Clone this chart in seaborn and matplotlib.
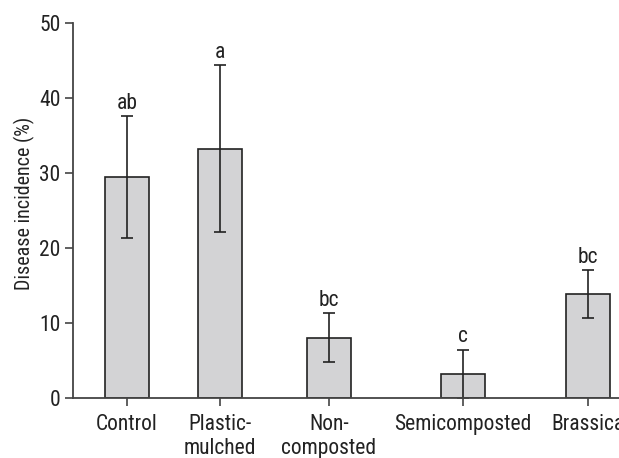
import matplotlib
matplotlib.use("Agg")
import matplotlib.pyplot as plt
import seaborn as sns
import pandas as pd

# data
treatments = ["Control", "Plastic-\nmulched", "Non-\ncomposted", "Semicomposted", "Brassica"]
incidence = [29.5, 33.3, 8.1, 3.2, 13.9]
err = [8.1, 11.1, 3.3, 3.3, 3.2]
letters = ["ab", "a", "bc", "c", "bc"]

# layout: uneven spacing of the groups on the x axis
x_pos = [0.0, 1.0, 2.17, 3.61, 4.96]

sns.set_theme(style="ticks")
plt.rcParams["font.family"] = ["Roboto Condensed", "Archivo Narrow", "DejaVu Sans"]

df = pd.DataFrame({"x": x_pos, "incidence": incidence})

fig = plt.figure(figsize=(6.19, 4.58), dpi=100)
ax = fig.add_axes([73 / 619, (458 - 398.3) / 458, (619 - 73) / 619, (398.3 - 23.3) / 458])

sns.barplot(data=df, x="x", y="incidence", native_scale=True, width=0.47,
            color="#d3d3d5", edgecolor="#222222", linewidth=1.2, saturation=1,
            errorbar=None, ax=ax)
ax.errorbar(x_pos, incidence, yerr=err, fmt="none", ecolor="#222222",
            elinewidth=1.2, capsize=4, capthick=1.2)

for x, v, e, lab in zip(x_pos, incidence, err, letters):
    ax.text(x, v + e + 0.3, lab, ha="center", va="bottom", fontsize=15.5, color="#222222")

ax.set_xlim(-0.58, 5.29)
ax.set_ylim(0, 50)
ax.set_yticks([0, 10, 20, 30, 40, 50])
ax.set_xticks(x_pos)
ax.set_xticklabels(treatments, fontsize=15.5, color="#222222", linespacing=1.2)
ax.tick_params(axis="y", labelsize=15.5, labelcolor="#222222", length=6, width=1.2,
               color="#444444", pad=3)
ax.tick_params(axis="x", length=6, width=1.2, color="#444444", pad=5)
ax.set_xlabel("")
ax.set_ylabel("Disease incidence (%)", fontsize=14.5, color="#222222")
ax.yaxis.set_label_coords(-0.07, 0.52)

for side in ["top", "right"]:
    ax.spines[side].set_visible(False)
for side in ["left", "bottom"]:
    ax.spines[side].set_color("#444444")
    ax.spines[side].set_linewidth(1.3)
ax.spines["bottom"].set_clip_on(False)

fig.savefig("out.png", dpi=100)
